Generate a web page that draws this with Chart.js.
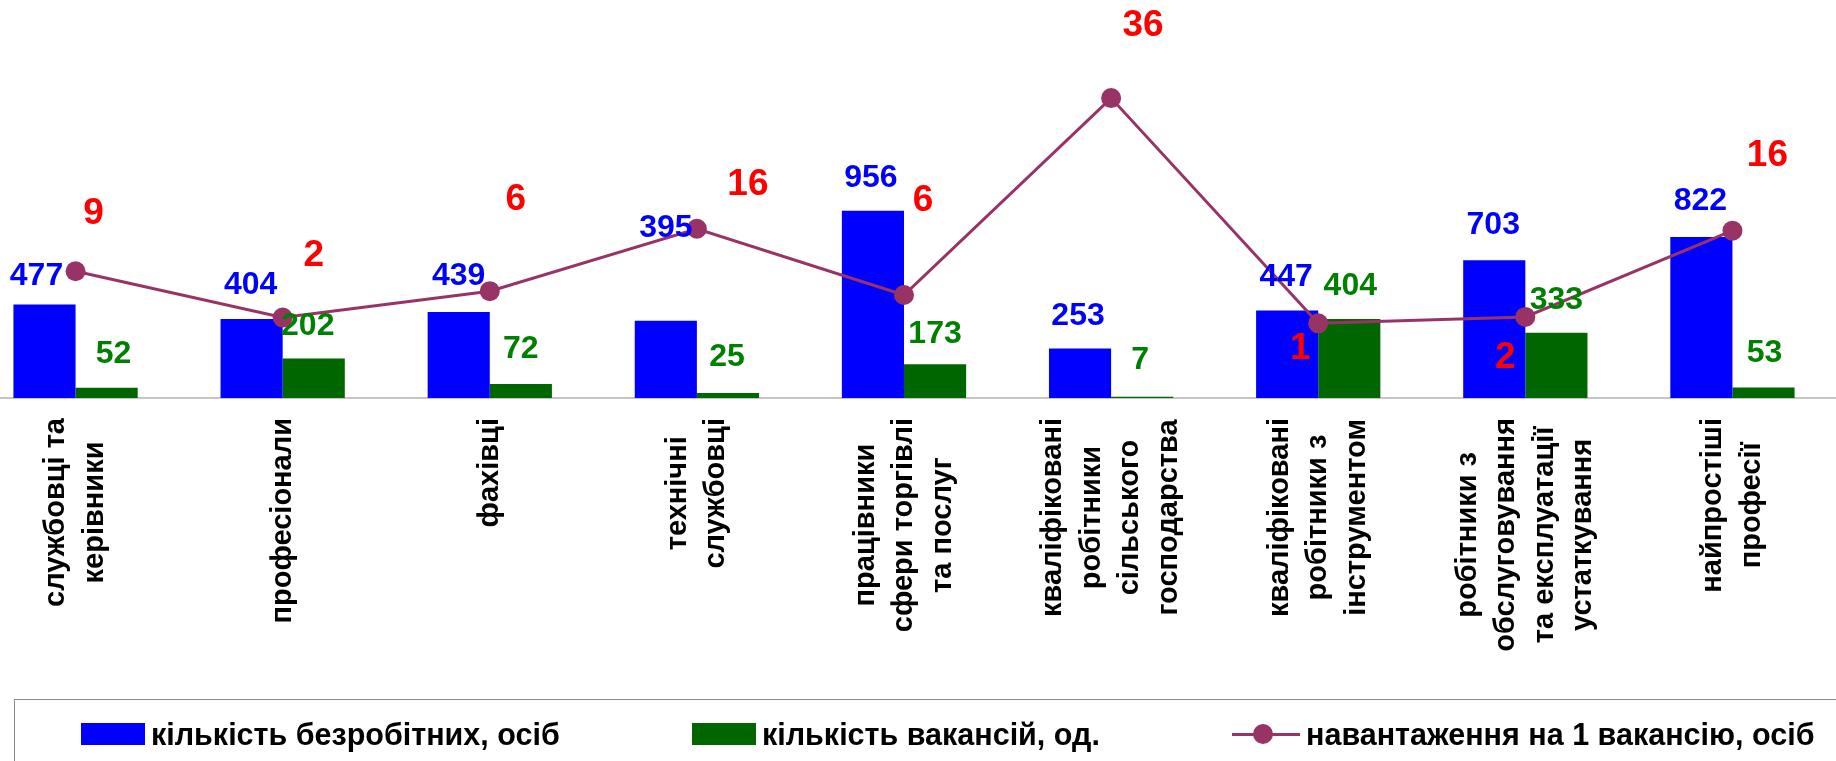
<!DOCTYPE html>
<html>
<head>
<meta charset="utf-8">
<script src="https://cdn.jsdelivr.net/npm/chart.js@4/dist/chart.umd.min.js"></script>
<style>
  html, body { margin:0; padding:0; background:#fff; overflow:hidden; width:1836px; height:761px; }
  #wrap { position:absolute; left:-28px; top:0; width:1864px; height:761px; }
  #legend { position:absolute; left:14px; top:699px; width:1900px; height:100px; border:1.5px solid #8a8a8a; box-sizing:border-box; }
  .lg-item { position:absolute; top:0; height:68px; display:flex; align-items:center; font:bold 30.5px "Liberation Sans", Arial, sans-serif; color:#000; white-space:nowrap; }
  .lg-box { width:64px; height:22px; margin-right:6px; }
  .lg-line { position:relative; width:68px; height:22px; margin-right:6px; }
</style>
</head>
<body>
<div id="wrap"><canvas id="c" width="1864" height="761"></canvas></div>
<div id="legend"></div>
<script>
// ---- data ----
const categories = [
  ['службовці та', 'керівники'],
  ['професіонали'],
  ['фахівці'],
  ['технічні', 'службовці'],
  ['працівники', 'сфери торгівлі', 'та послуг'],
  ['кваліфіковані', 'робітники', 'сільського', 'господарства'],
  ['кваліфіковані', 'робітники з', 'інструментом'],
  ['робітники з', 'обслуговування', 'та експлуатації', 'устаткування'],
  ['найпростіші', 'професії']
];
const unemployed = [477, 404, 439, 395, 956, 253, 447, 703, 822];
const vacancies = [52, 202, 72, 25, 173, 7, 404, 333, 53];
const loadPerVacancy = [9.2, 2.0, 6.1, 15.8, 5.5, 36.1, 1.1, 2.1, 15.5];
const seriesNames = ['кількість безробітних, осіб', 'кількість вакансій, од.', 'навантаження на 1 вакансію, осіб'];

// ---- styles (label placement offsets, px) ----
const blueOffsets  = [[-8,-28],[-1,-34],[0,-36],[0,-92],[-2,-33],[-2,-32],[-1,-33],[-1,-35],[-1,-36]];
const greenOffsets = [[7,-34],[-6,-32],[0,-35],[-1,-36],[0,-30],[-2,-36],[1,-33],[0,-33],[1,-34]];
const redOffsets   = [[18,-57],[31,-62],[26,-91],[51,-44],[19,-94],[32,-72],[-18,25],[-20,41],[35,-75]];

const COL_BLUE = '#0000FF', COL_GREEN = '#006600', COL_LINE = '#993366';
const labelStyles = [
  { font:'bold 32px "Liberation Sans", Arial, sans-serif', color:'#0000FF', offsets:blueOffsets, fmt:v=>String(v) },
  { font:'bold 32px "Liberation Sans", Arial, sans-serif', color:'#008000', offsets:greenOffsets, fmt:v=>String(v) },
  { font:'bold 37px "Liberation Sans", Arial, sans-serif', color:'#FF0000', offsets:redOffsets, fmt:v=>String(Math.round(v)) }
];

const valueLabels = {
  id:'valueLabels',
  afterDatasetsDraw(chart){
    const ctx = chart.ctx;
    chart.data.datasets.forEach((ds, di) => {
      const meta = chart.getDatasetMeta(di);
      const st = labelStyles[di];
      meta.data.forEach((el, i) => {
        const o = st.offsets[i];
        ctx.save();
        ctx.font = st.font; ctx.fillStyle = st.color;
        ctx.textAlign = 'center'; ctx.textBaseline = 'middle';
        ctx.fillText(st.fmt(ds.data[i]), el.x + o[0], el.y + o[1]);
        ctx.restore();
      });
    });
  }
};

const xLabels = {
  id:'xLabels',
  afterDraw(chart){
    const ctx = chart.ctx;
    const xs = chart.scales.x;
    const top = xs.top + 20;
    const lh = 38.5;
    ctx.save();
    ctx.font = 'bold 29px "Liberation Sans", Arial, sans-serif';
    ctx.fillStyle = '#000';
    ctx.textBaseline = 'middle';
    ctx.textAlign = 'center';
    categories.forEach((lines, i) => {
      const cx = xs.getPixelForValue(i);
      const maxW = Math.max(...lines.map(l => ctx.measureText(l).width));
      ctx.save();
      ctx.translate(cx, top);
      ctx.rotate(-Math.PI/2);
      lines.forEach((l, k) => {
        ctx.fillText(l, -maxW/2, (k - (lines.length-1)/2) * lh);
      });
      ctx.restore();
    });
    ctx.restore();
  }
};

const chart = new Chart(document.getElementById('c'), {
  type:'bar',
  data:{
    labels: categories,
    datasets:[
      { label:seriesNames[0], data:unemployed, backgroundColor:COL_BLUE, yAxisID:'y', order:2,
        categoryPercentage:0.6, barPercentage:1.0 },
      { label:seriesNames[1], data:vacancies, backgroundColor:COL_GREEN, yAxisID:'y', order:2,
        categoryPercentage:0.6, barPercentage:1.0 },
      { label:seriesNames[2], data:loadPerVacancy, type:'line', yAxisID:'y2', order:0,
        borderColor:COL_LINE, backgroundColor:COL_LINE, borderWidth:3, tension:0, clip:false,
        pointRadius:10, pointHoverRadius:10, pointBackgroundColor:COL_LINE, pointBorderWidth:0 }
    ]
  },
  options:{
    responsive:false,
    animation:false,
    devicePixelRatio:1,
    layout:{ autoPadding:false, padding:{ top:73, left:0, right:0, bottom:0 } },
    plugins:{ legend:{ display:false }, tooltip:{ enabled:false } },
    scales:{
      x:{
        grid:{ display:false },
        border:{ display:true, color:'#c6c6c6', width:2 },
        ticks:{ display:false },
        afterFit(s){ s.height = 363; }
      },
      y:{ display:false, min:0, max:1660 },
      y2:{ display:false, position:'right', min:-10.5, max:40 }
    }
  },
  plugins:[valueLabels, xLabels]
});

// ---- HTML legend built from the datasets ----
const legendPos = [80, 691, 1231];
const lg = document.getElementById('legend');
chart.data.datasets.forEach((ds, i) => {
  const item = document.createElement('div');
  item.className = 'lg-item';
  item.style.left = (legendPos[i] - 14) + 'px';
  let sym;
  if (ds.type === 'line') {
    sym = document.createElement('div');
    sym.className = 'lg-line';
    sym.innerHTML = '<div style="position:absolute;left:0;right:0;top:9.5px;height:3px;background:'+ds.borderColor+'"></div>' +
                    '<div style="position:absolute;left:21px;top:1px;width:20px;height:20px;border-radius:50%;background:'+ds.borderColor+'"></div>';
  } else {
    sym = document.createElement('div');
    sym.className = 'lg-box';
    sym.style.background = ds.backgroundColor;
  }
  const t = document.createElement('span');
  t.textContent = ds.label;
  item.appendChild(sym); item.appendChild(t);
  lg.appendChild(item);
});
</script>
</body>
</html>
